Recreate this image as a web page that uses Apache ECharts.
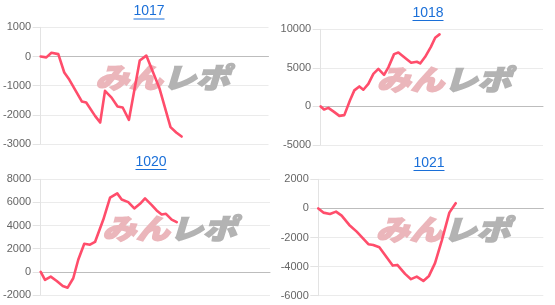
<!DOCTYPE html>
<html>
<head>
<meta charset="utf-8">
<script src="https://cdn.jsdelivr.net/npm/echarts@6/dist/echarts.min.js"></script>
<style>
html,body{margin:0;padding:0;background:#fff;}
#c{width:555px;height:305px;}
</style>
</head>
<body>
<div id="c"></div>
<script>
// ---- data (x: game count, y: coin difference) ----
const titles = ['1017', '1018', '1020', '1021'];

const x1017 = [0,200,380,620,830,1010,1450,1600,1910,2090,2260,2490,2700,2880,3100,3480,3710,4170,4560,4760,4950];
const y1017 = [0,-30,130,80,-550,-800,-1545,-1580,-2035,-2265,-1180,-1410,-1715,-1750,-2170,-140,30,-1085,-2420,-2605,-2745];

const x1018 = [0,120,275,480,670,850,1055,1210,1390,1535,1715,1895,2075,2280,2435,2640,2795,3040,3255,3460,3580,3760,3965,4120,4275];
const y1018 = [0,-400,-190,-705,-1220,-1130,795,2080,2590,2165,2935,4220,4860,4090,5065,6780,6985,6270,5665,5795,5575,6435,7720,8910,9345];

const x1020 = [0,150,350,560,770,940,1135,1310,1520,1720,1895,2185,2420,2670,2825,3055,3265,3465,3640,3875,4045,4220,4370,4570,4745];
const y1020 = [0,-695,-410,-785,-1215,-1365,-550,1045,2435,2350,2585,4520,6410,6785,6260,6025,5480,5885,6350,5765,5305,4955,5015,4520,4290];

const x1021 = [0,180,415,630,830,1100,1365,1780,1955,2170,2430,2645,2810,3085,3295,3500,3735,3935,4150,4390,4660,4885];
const y1021 = [0,-290,-380,-220,-495,-1135,-1595,-2460,-2510,-2665,-3355,-3930,-3885,-4500,-4865,-4685,-4985,-4640,-3765,-2215,-290,355];

// y-axis tick labels per chart
const ticks1017 = [-3000, -2000, -1000, 0, 1000];
const ticks1018 = [-5000, 0, 5000, 10000];
const ticks1020 = [-2000, 0, 2000, 4000, 6000, 8000];
const ticks1021 = [-6000, -4000, -2000, 0, 2000];

const xMax = 8000;
const watermarkA = 'みん';
const watermarkB = 'レポ';

// ---- layout ----
const xs = [x1017, x1018, x1020, x1021];
const ys = [y1017, y1018, y1020, y1021];
const ticks = [ticks1017, ticks1018, ticks1020, ticks1021];
const grids = [
  {left: 38.5, right: 286.5, top: 27.3, bottom: 161},
  {left: 320.7, right: 12, top: 29.3, bottom: 160},
  {left: 40.7, right: 285, top: 179.3, bottom: 10},
  {left: 318.3, right: 11.7, top: 179.3, bottom: 9.3}
];
const titlePos = [[149, 11.5, 18.5], [428, 13.3, 20], [151, 162.3, 169], [429, 163.3, 170]];
const wmPos = [[162.5, 77.5], [444, 79.5], [169.5, 228.5], [443, 229.5]];

const FONT = 'Arial, "Liberation Sans", sans-serif';
const LINE = '#ff4d6b';
const WM_PINK = '#ebb6bb';
const WM_GRAY = '#b3b3b3';

const option = {
  animation: false,
  grid: grids.map(g => Object.assign({containLabel: false}, g)),
  xAxis: grids.map((g, i) => ({
    type: 'value', gridIndex: i, min: 0, max: xMax,
    axisLine: {show: true, onZero: true, lineStyle: {color: '#bdbdbd', width: 1}},
    axisTick: {show: false}, axisLabel: {show: false}, splitLine: {show: false}
  })),
  yAxis: ticks.map((t, i) => ({
    type: 'value', gridIndex: i,
    min: t[0], max: t[t.length - 1], interval: t[1] - t[0],
    axisLine: {show: true, lineStyle: {color: '#e3e3e3'}},
    axisTick: {show: true, length: 8, lineStyle: {color: '#e3e3e3'}},
    axisLabel: {margin: 9.5, color: '#666', fontSize: 11, fontFamily: FONT, formatter: v => String(v)},
    splitLine: {show: true, lineStyle: {color: '#ebebeb', width: 1}}
  })),
  series: xs.map((x, i) => ({
    type: 'line', xAxisIndex: i, yAxisIndex: i,
    data: x.map((v, k) => [v, ys[i][k]]),
    showSymbol: false, symbol: 'none', z: 3,
    lineStyle: {color: LINE, width: 2.6, join: 'round', cap: 'round'}
  })),
  graphic: []
};

titles.forEach((t, i) => {
  const [cx, cy, uy] = titlePos[i];
  option.graphic.push({
    type: 'text', x: cx, y: cy, z: 5,
    style: {text: t, fill: '#1a6fd8', font: '14px ' + FONT, textAlign: 'center', textVerticalAlign: 'middle'}
  });
  option.graphic.push({
    type: 'rect', z: 5,
    shape: {x: cx - 15.5, y: uy, width: 31, height: 1},
    style: {fill: '#1a6fd8'}
  });
  const [wx, wy] = wmPos[i];
  option.graphic.push({
    type: 'text', x: wx, y: wy, z: 1, scaleX: 1.2, scaleY: 1,
    style: {
      text: '{a|' + watermarkA + '}{b|' + watermarkB + '}',
      textAlign: 'center', textVerticalAlign: 'middle',
      rich: {
        a: {fill: WM_PINK, stroke: WM_PINK, lineWidth: 1.6, fontSize: 28, fontWeight: 900, fontStyle: 'italic', fontFamily: '"Noto Sans CJK JP"'},
        b: {fill: WM_GRAY, stroke: WM_GRAY, lineWidth: 1.6, fontSize: 28, fontWeight: 900, fontStyle: 'italic', fontFamily: '"Noto Sans CJK JP"'}
      }
    }
  });
});

const chart = echarts.init(document.getElementById('c'), null, {renderer: 'canvas'});
chart.setOption(option);
</script>
</body>
</html>
